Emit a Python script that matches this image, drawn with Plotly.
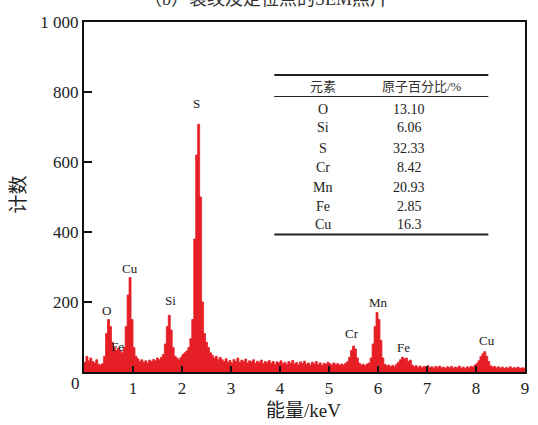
import numpy as np
import plotly.graph_objects as go

# ---- data ----
step_kev = 0.04
counts = [
    28, 45, 32, 40, 30, 26, 35, 22, 20, 24, 45, 110, 150, 130, 85, 70, 62, 68, 60, 55, 70, 130, 220, 270, 150,
    70, 45, 38, 30, 35, 28, 32, 26, 34, 30, 36, 32, 40, 35, 42, 50, 80, 130, 162, 120, 70, 45, 40, 35, 42,
    50, 55, 60, 70, 95, 150, 380, 620, 708, 500, 200, 110, 85, 70, 55, 48, 40, 45, 36, 42, 35, 30, 38, 28, 33,
    26, 36, 30, 40, 28, 34, 30, 37, 26, 32, 29, 35, 25, 31, 28, 34, 24, 30, 27, 33, 25, 30, 22, 29, 26,
    32, 24, 28, 22, 30, 25, 33, 23, 27, 21, 29, 24, 31, 22, 26, 20, 28, 23, 30, 21, 26, 19, 25, 22, 28,
    24, 20, 26, 21, 24, 19, 23, 20, 25, 30, 42, 62, 74, 66, 40, 25, 20, 22, 18, 23, 26, 40, 80, 130, 170,
    150, 90, 40, 22, 18, 20, 15, 19, 16, 22, 28, 35, 42, 38, 40, 30, 34, 20, 15, 18, 13, 17, 12, 16, 14,
    18, 12, 15, 11, 16, 13, 17, 12, 14, 10, 15, 12, 16, 11, 14, 12, 17, 11, 14, 10, 15, 12, 16, 14, 20,
    24, 32, 44, 52, 58, 45, 30, 18, 14, 16, 12, 15, 11, 14, 10, 13, 11, 15, 10, 13, 11, 14, 10, 12, 11,
    13,
]
energy = np.round(np.arange(len(counts)) * step_kev, 2)

peak_names = ["O", "Fe", "Cu", "Si", "S", "Cr", "Mn", "Fe", "Cu"]
peak_energy = [0.46, 0.69, 0.93, 1.76, 2.30, 5.47, 6.02, 6.53, 8.22]
peak_label_y = [177, 74, 297, 203, 766, 111, 200, 71, 89]

table_elements = ["O", "Si", "S", "Cr", "Mn", "Fe", "Cu"]
table_percent = ["13.10", "6.06", "32.33", "8.42", "20.93", "2.85", "16.3"]

x_ticks = [1, 2, 3, 4, 5, 6, 7, 8, 9]
y_ticks = [200, 400, 600, 800, 1000]
y_ticktext = ["200", "400", "600", "800", "1 000"]

# ---- layout helpers (pixel -> paper) ----
L, R, T, B = 84, 9, 22, 53
W, H = 538, 425
PW, PH = W - L - R, H - T - B


def xp(px):
    return (px - L) / PW


def yp(py):
    return (H - B - py) / PH


SERIF = "Liberation Serif, Times New Roman, Noto Sans CJK SC, serif"
RED = "#e61e25"

fig = go.Figure()
fig.add_trace(go.Scatter(
    x=energy, y=counts, mode="lines", line=dict(color=RED, width=0.8, shape="hv"),
    fill="tozeroy", fillcolor=RED, hoverinfo="skip", showlegend=False,
))


def txt(x, y, text, size, ref="paper", color="#222", angle=0):
    return dict(x=x, y=y, xref="x" if ref == "data" else "paper", yref="y" if ref == "data" else "paper",
                text=text, showarrow=False, xanchor="center", yanchor="middle", textangle=angle,
                font=dict(family=SERIF, size=size, color=color))


annotations = []
for name, ex, ey in zip(peak_names, peak_energy, peak_label_y):
    annotations.append(txt(ex, ey, name, 13, ref="data"))

# table
row_y = [109, 128, 148, 167, 187, 206, 224]
annotations.append(txt(xp(325), yp(86), "元素", 13, color="#333"))
annotations.append(txt(xp(425), yp(86), "原子百分比/%", 13, color="#333"))
for el, pc, ry in zip(table_elements, table_percent, row_y):
    annotations.append(txt(xp(325), yp(ry), el, 14))
    annotations.append(txt(xp(412), yp(ry), pc, 14))

# x-axis "0" label (offset left), title and axis titles
annotations.append(txt(xp(75), yp(383), "0", 17))
annotations.append(txt(xp(268), yp(-1), "（b）裂纹及定位点的SEM照片", 18, color="#333"))
annotations.append(txt(xp(305), yp(410), "能量/keV", 19))
annotations.append(txt(xp(17), yp(195), "计数", 19, angle=-90))

shapes = [
    dict(type="line", xref="paper", yref="paper", x0=xp(276), x1=xp(492), y0=yp(75), y1=yp(75),
         line=dict(color="#222", width=2)),
    dict(type="line", xref="paper", yref="paper", x0=xp(276), x1=xp(492), y0=yp(96.5), y1=yp(96.5),
         line=dict(color="#222", width=1)),
    dict(type="line", xref="paper", yref="paper", x0=xp(276), x1=xp(492), y0=yp(234.5), y1=yp(234.5),
         line=dict(color="#222", width=2)),
]

fig.update_layout(
    width=W, height=H, margin=dict(l=L, r=R, t=T, b=B),
    paper_bgcolor="white", plot_bgcolor="white",
    annotations=annotations, shapes=shapes,
    xaxis=dict(range=[0, 9], tickvals=x_ticks, ticktext=[str(v) for v in x_ticks],
               ticks="inside", ticklen=6, tickwidth=1.5, tickcolor="#111",
               showline=True, linecolor="#111", linewidth=2, mirror=True,
               showgrid=False, zeroline=False,
               tickfont=dict(family=SERIF, size=17, color="#222")),
    yaxis=dict(range=[0, 1000], tickvals=y_ticks, ticktext=y_ticktext,
               ticks="inside", ticklen=8, tickwidth=1.5, tickcolor="#111",
               showline=True, linecolor="#111", linewidth=2, mirror=True,
               showgrid=False, zeroline=False,
               tickfont=dict(family=SERIF, size=17, color="#222")),
)

fig.write_html("out.html")
